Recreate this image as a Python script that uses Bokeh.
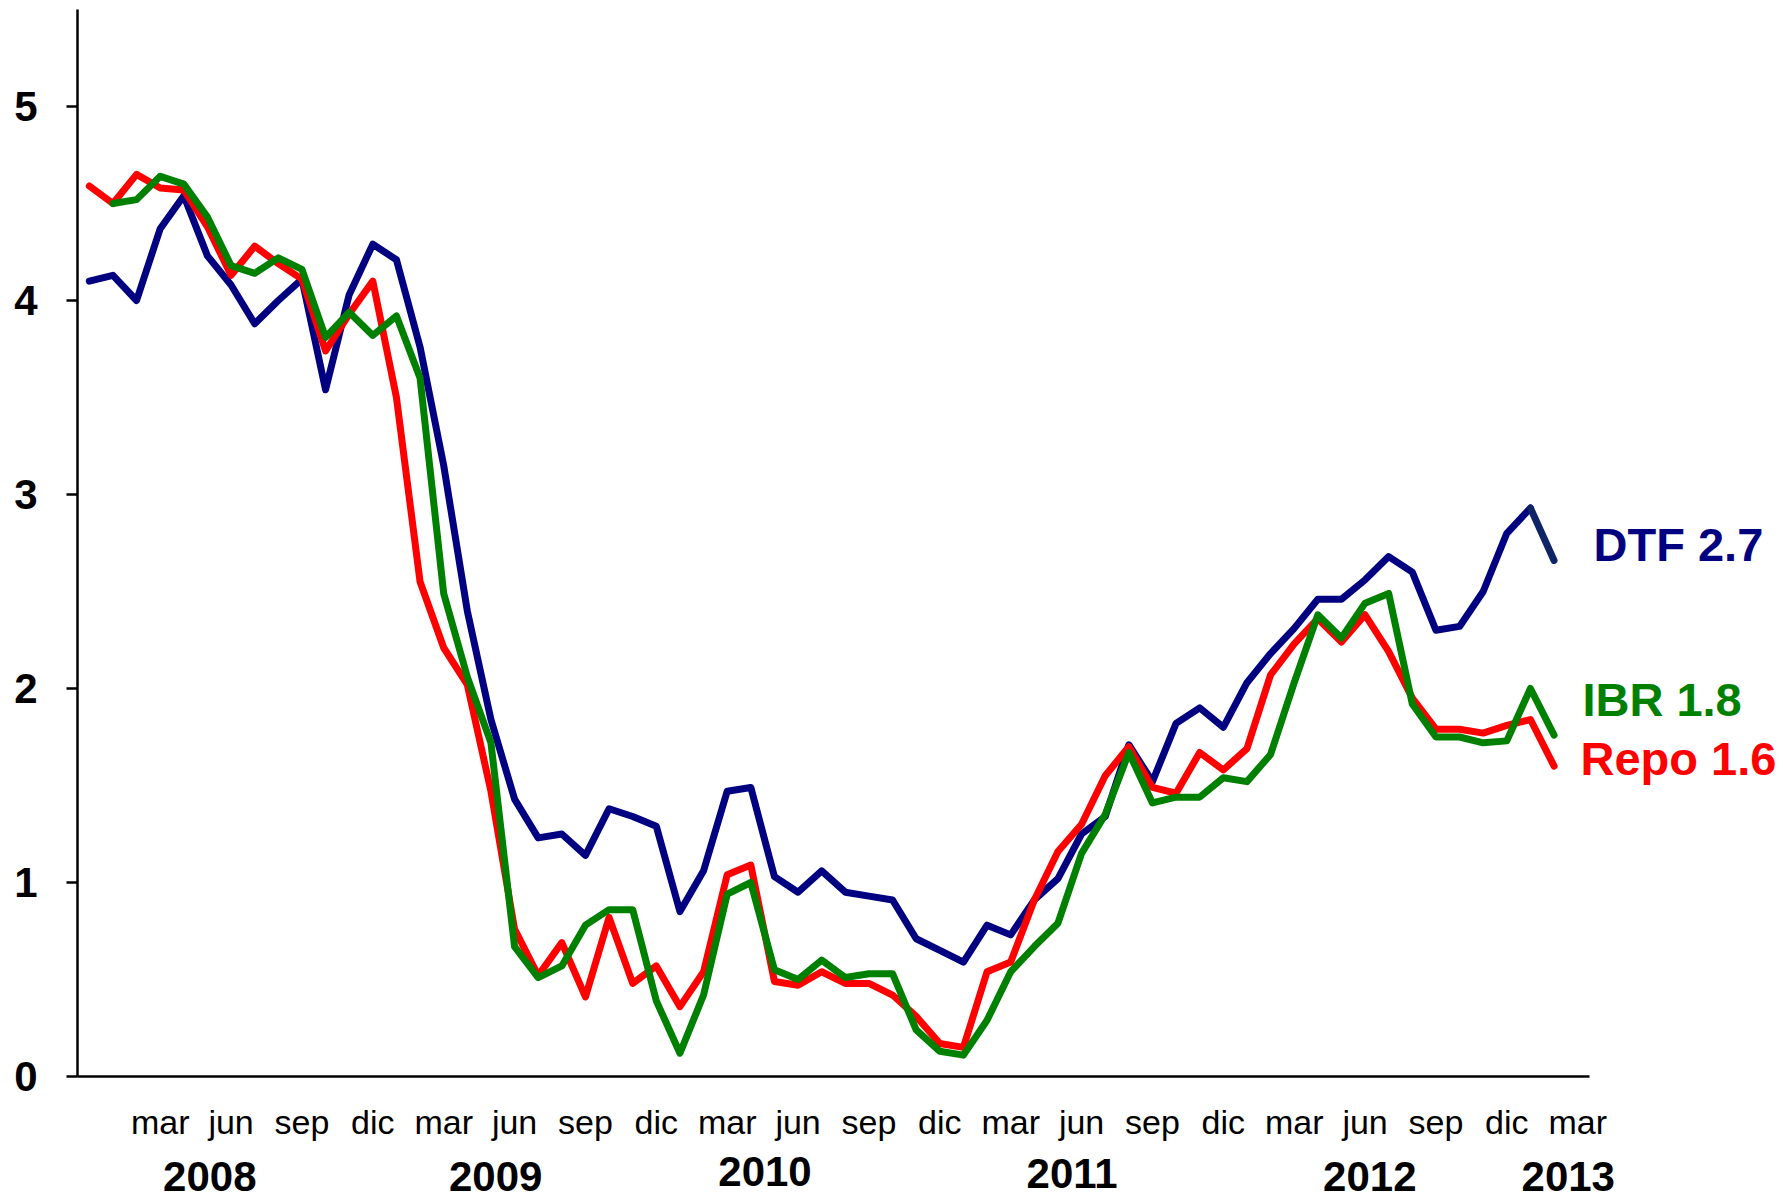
from bokeh.core.properties import value
from bokeh.embed import file_html
from bokeh.layouts import column
from bokeh.models import ColumnDataSource, FixedTicker, Range1d
from bokeh.plotting import figure
from bokeh.resources import INLINE

# Monthly rates (%), Dec-2007 .. Feb-2013; the category axis runs on to Mar-2013
MONTH_NAMES = ["ene", "feb", "mar", "abr", "may", "jun",
               "jul", "ago", "sep", "oct", "nov", "dic"]
START_MONTH = 12
N_CATEGORIES = 64

dtf = [4.10, 4.13, 4.00, 4.37, 4.54, 4.23, 4.08, 3.88, 4.00, 4.11,
       3.54, 4.03, 4.29, 4.21, 3.76, 3.15, 2.40, 1.84, 1.43, 1.23,
       1.25, 1.14, 1.38, 1.34, 1.29, 0.85, 1.06, 1.47, 1.49, 1.03,
       0.95, 1.06, 0.95, 0.93, 0.91, 0.71, 0.65, 0.59, 0.78, 0.73,
       0.91, 1.02, 1.25, 1.34, 1.71, 1.52, 1.82, 1.90, 1.80, 2.03,
       2.18, 2.31, 2.46, 2.46, 2.56, 2.68, 2.60, 2.30, 2.32, 2.50,
       2.80, 2.93, 2.66]

repo = [4.59, 4.50, 4.65, 4.58, 4.57, 4.38, 4.13, 4.28, 4.19, 4.11,
        3.74, 3.93, 4.10, 3.50, 2.55, 2.21, 2.02, 1.47, 0.76, 0.52,
        0.69, 0.41, 0.82, 0.48, 0.57, 0.36, 0.54, 1.04, 1.09, 0.49,
        0.47, 0.54, 0.48, 0.48, 0.42, 0.31, 0.17, 0.15, 0.54, 0.59,
        0.91, 1.16, 1.30, 1.55, 1.70, 1.49, 1.46, 1.67, 1.58, 1.69,
        2.07, 2.23, 2.36, 2.24, 2.38, 2.19, 1.95, 1.79, 1.79, 1.77,
        1.81, 1.84, 1.60]

ibr = [float("nan"),
       4.50, 4.52, 4.64, 4.60, 4.43, 4.18, 4.14, 4.22, 4.16,
       3.81, 3.94, 3.82, 3.92, 3.60, 2.49, 2.06, 1.72, 0.67, 0.51,
       0.57, 0.78, 0.86, 0.86, 0.39, 0.12, 0.42, 0.94, 1.00, 0.55,
       0.50, 0.60, 0.51, 0.53, 0.53, 0.24, 0.13, 0.11, 0.29, 0.54,
       0.67, 0.79, 1.15, 1.35, 1.67, 1.41, 1.44, 1.44, 1.54, 1.52,
       1.66, 2.03, 2.38, 2.26, 2.44, 2.49, 1.92, 1.75, 1.75, 1.72,
       1.73, 2.00, 1.76]

SERIES_NAMES = ["DTF", "IBR", "Repo"]
YEARS = ["2008", "2009", "2010", "2011", "2012", "2013"]
Y_TICKS = [0, 1, 2, 3, 4, 5]

# caption placement: categories along x; value units (main) / pixels (year strip) along y
YEAR_X = [5.1, 17.2, 28.6, 41.6, 54.2, 62.6]
YEAR_Y = [26, 26, 31, 29, 26, 26]
END_LABEL_X = [63.67, 63.2, 63.12]
END_LABEL_Y = [2.74, 1.943, 1.639]

NAVY, NAVY_DARK, GREEN, RED = "#000080", "#0F2466", "#008000", "#FF0000"
FONT = "Liberation Sans"
PX_PER_CAT = 23.625
FRAME_LEFT = 77
CANVAS_W = 1783
MAIN_H, STRIP_H = 1146, 56

x = list(range(len(dtf)))
month_of = [MONTH_NAMES[(START_MONTH - 1 + i) % 12] for i in range(N_CATEGORIES)]
quarter_ticks = list(range(3, N_CATEGORIES, 3))

# the frame runs to the right edge so the end captions have room;
# the x axis itself is bounded to the category span
x_range = Range1d(-0.5, -0.5 + (CANVAS_W - FRAME_LEFT) / PX_PER_CAT)
p = figure(width=CANVAS_W, height=MAIN_H,
           x_range=x_range, y_range=Range1d(0, 5.5),
           output_backend="svg", toolbar_location=None,
           min_border_left=FRAME_LEFT, min_border_right=0,
           min_border_top=9, min_border_bottom=70)
p.outline_line_color = None
p.grid.visible = False

yax = p.yaxis[0]
yax.ticker = FixedTicker(ticks=Y_TICKS)
yax.axis_line_width = 2.5
yax.axis_line_color = "black"
yax.major_tick_out = 11
yax.major_tick_in = 0
yax.major_tick_line_width = 2.5
yax.minor_tick_out = 0
yax.minor_tick_in = 0
yax.major_label_text_font = FONT
yax.major_label_text_font_style = "bold"
yax.major_label_text_font_size = "42px"
yax.major_label_text_color = "black"
yax.major_label_standoff = 29

xax = p.xaxis[0]
xax.bounds = (-0.5, N_CATEGORIES - 0.5)
xax.ticker = FixedTicker(ticks=quarter_ticks)
xax.major_label_overrides = {i: month_of[i] for i in quarter_ticks}
xax.axis_line_width = 2.5
xax.axis_line_color = "black"
xax.major_tick_out = 0
xax.major_tick_in = 0
xax.minor_tick_out = 0
xax.minor_tick_in = 0
xax.major_label_text_font = FONT
xax.major_label_text_font_size = "34px"
xax.major_label_text_color = "black"
xax.major_label_standoff = 26

style = dict(line_width=7, line_join="round", line_cap="round")
p.line(x[:-1], dtf[:-1], color=NAVY, **style)
p.line(x[-2:], dtf[-2:], color=NAVY_DARK, **style)
p.line(x, repo, color=RED, **style)
p.line(x[1:], ibr[1:], color=GREEN, **style)

last_values = [dtf[-1], ibr[-1], repo[-1]]
end_src = ColumnDataSource(dict(
    x=END_LABEL_X, y=END_LABEL_Y,
    text=[f"{n} {v:.1f}" for n, v in zip(SERIES_NAMES, last_values)],
    color=[NAVY, GREEN, RED]))
p.text(x="x", y="y", text="text", source=end_src, text_color="color",
       text_font=value(FONT), text_font_style="bold", text_font_size="47px",
       text_align="left", text_baseline="middle")

# strip under the month labels carrying the years, sharing the category scale
strip = figure(width=CANVAS_W, height=STRIP_H, x_range=x_range,
               y_range=Range1d(0, STRIP_H), output_backend="svg",
               toolbar_location=None, x_axis_location=None, y_axis_location=None,
               min_border_left=FRAME_LEFT, min_border_right=0,
               min_border_top=0, min_border_bottom=0)
strip.outline_line_color = None
strip.grid.visible = False
year_src = ColumnDataSource(dict(x=YEAR_X, y=YEAR_Y, text=YEARS))
strip.text(x="x", y="y", text="text", source=year_src, text_color="black",
           text_font=value(FONT), text_font_style="bold", text_font_size="42px",
           text_align="center", text_baseline="middle")

open("out.html", "w").write(file_html(column(p, strip, spacing=0), INLINE))
